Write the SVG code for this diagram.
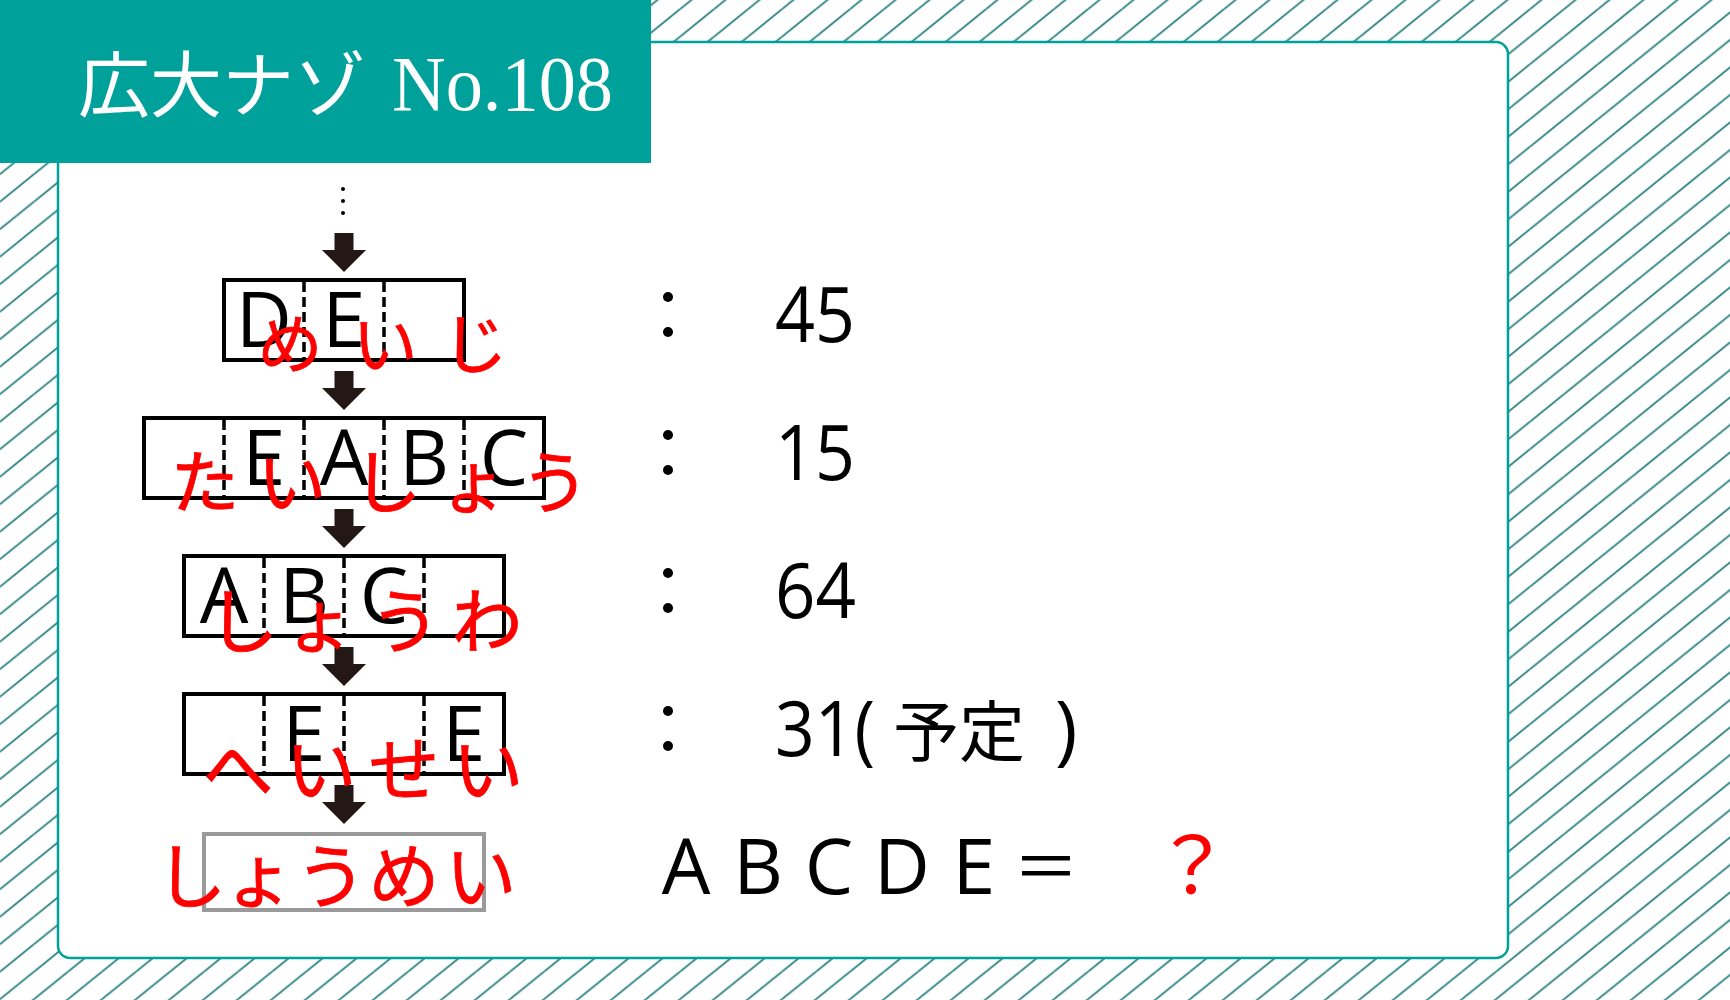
<svg xmlns="http://www.w3.org/2000/svg" width="1730" height="1000" viewBox="0 0 1730 1000">
  <defs>
    <pattern id="hatch" patternUnits="userSpaceOnUse" x="0" y="9.2" width="34" height="27.5">
      <line x1="0" y1="27.5" x2="34" y2="0" stroke="#3d8c8c" stroke-width="2"/>
      <line x1="-34" y1="27.5" x2="0" y2="0" stroke="#3d8c8c" stroke-width="2"/>
      <line x1="34" y1="27.5" x2="68" y2="0" stroke="#3d8c8c" stroke-width="2"/>
      <line x1="0" y1="55" x2="34" y2="27.5" stroke="#3d8c8c" stroke-width="2"/>
      <line x1="0" y1="0" x2="34" y2="-27.5" stroke="#3d8c8c" stroke-width="2"/>
    </pattern>
    <path id="arrow" d="M-9.5,-47 H9.5 V-30 H22 L0,-8 L-22,-30 H-9.5 Z" fill="#231815"/>
  </defs>
  <style>
    .box { fill: none; stroke: #000; stroke-width: 4; }
    .gbox { fill: none; stroke: #9a9a9a; stroke-width: 4; }
    .div { stroke: #000; stroke-width: 3.5; stroke-dasharray: 10 5; }
    .cell { font-family: "Open Sans", "Liberation Sans", sans-serif; font-size: 77px; fill: #000; text-anchor: middle; }
    .red { font-family: "Noto Sans CJK JP", sans-serif; fill: #ff0000; text-anchor: middle; stroke: #ff0000; stroke-width: 0.8; }
    .num { font-family: "Open Sans", "Liberation Sans", "Noto Sans CJK JP", sans-serif; font-size: 76px; fill: #000; }
    .colon { fill: #000; }
  </style>

  <rect x="0" y="0" width="1730" height="1000" fill="#ffffff"/>
  <rect x="0" y="0" width="1730" height="1000" fill="url(#hatch)"/>

  <rect id="card" x="58" y="42" width="1450" height="916" rx="12" ry="12" fill="#ffffff" stroke="#00a19a" stroke-width="2.5"/>

  <g id="header">
    <rect x="0" y="0" width="651" height="163" fill="#00a19a"/>
    <text x="78" y="111" font-family="Noto Sans CJK JP, sans-serif" font-size="72" fill="#ffffff">広大ナゾ</text>
    <text x="392" y="110" font-family="Liberation Serif, serif" font-size="78" fill="#ffffff" textLength="221" lengthAdjust="spacingAndGlyphs">No.108</text>
  </g>

  <g id="ellipsis" fill="#000">
    <circle cx="343" cy="189" r="2"/>
    <circle cx="343" cy="201" r="2"/>
    <circle cx="343" cy="213" r="2"/>
  </g>

  <g id="connectors">
    <use href="#arrow" x="344" y="280"/>
    <use href="#arrow" x="344" y="418"/>
    <use href="#arrow" x="344" y="556"/>
    <use href="#arrow" x="344" y="694"/>
    <use href="#arrow" x="344" y="832"/>
  </g>

  <g id="box1">
    <rect class="box" x="224" y="280" width="240" height="80"/>
    <line class="div" x1="304" y1="282" x2="304" y2="358"/>
    <line class="div" x1="384" y1="282" x2="384" y2="358"/>
    <text class="cell" x="264" y="347">D</text>
    <text class="cell" x="344" y="347">E</text>
    <text class="red" font-size="65" x="290 385 475" y="368">めいじ</text>
  </g>

  <g id="box2">
    <rect class="box" x="144" y="418" width="400" height="80"/>
    <line class="div" x1="224" y1="420" x2="224" y2="496"/>
    <line class="div" x1="304" y1="420" x2="304" y2="496"/>
    <line class="div" x1="384" y1="420" x2="384" y2="496"/>
    <line class="div" x1="464" y1="420" x2="464" y2="496"/>
    <text class="cell" x="264" y="485">E</text>
    <text class="cell" x="344" y="485">A</text>
    <text class="cell" x="424" y="485">B</text>
    <text class="cell" x="504" y="485">C</text>
    <text class="red" font-size="69" x="205 292 387 474 555" y="508">たいしょう</text>
  </g>

  <g id="box3">
    <rect class="box" x="184" y="556" width="320" height="80"/>
    <line class="div" x1="264" y1="558" x2="264" y2="634"/>
    <line class="div" x1="344" y1="558" x2="344" y2="634"/>
    <line class="div" x1="424" y1="558" x2="424" y2="634"/>
    <text class="cell" x="224" y="623">A</text>
    <text class="cell" x="304" y="623">B</text>
    <text class="cell" x="384" y="623">C</text>
    <text class="red" font-size="71" x="243 320 405 487" y="647">しょうわ</text>
  </g>

  <g id="box4">
    <rect class="box" x="184" y="694" width="320" height="80"/>
    <line class="div" x1="264" y1="696" x2="264" y2="772"/>
    <line class="div" x1="344" y1="696" x2="344" y2="772"/>
    <line class="div" x1="424" y1="696" x2="424" y2="772"/>
    <text class="cell" x="304" y="761">E</text>
    <text class="cell" x="464" y="761">E</text>
    <text class="red" font-size="71" x="238 321 404 488" y="795">へいせい</text>
  </g>

  <g id="box5">
    <rect class="gbox" x="204" y="834" width="280" height="76"/>
    <text class="red" font-size="71" x="191 259 331 404 481" y="902">しょうめい</text>
  </g>

  <g id="values">
    <g class="colon">
      <circle cx="668" cy="297" r="5"/><circle cx="668" cy="332" r="5"/>
      <circle cx="668" cy="435" r="5"/><circle cx="668" cy="470" r="5"/>
      <circle cx="668" cy="573" r="5"/><circle cx="668" cy="608" r="5"/>
      <circle cx="668" cy="711" r="5"/><circle cx="668" cy="746" r="5"/>
    </g>
    <text class="num" x="775" y="342" textLength="80" lengthAdjust="spacingAndGlyphs">45</text>
    <text class="num" x="775" y="480" textLength="80" lengthAdjust="spacingAndGlyphs">15</text>
    <text class="num" x="775" y="618" textLength="81" lengthAdjust="spacingAndGlyphs">64</text>
    <text class="num" y="756"><tspan x="775" textLength="100" lengthAdjust="spacingAndGlyphs">31(</tspan><tspan x="893" font-family="Noto Sans CJK JP, sans-serif" font-size="66">予定</tspan><tspan x="1055">)</tspan></text>
  </g>

  <g id="answer">
    <text class="cell" font-size="78" x="686 758 829 902 974" y="894">ABCDE</text>
    <text x="1046" y="891" font-family="Noto Sans CJK JP, sans-serif" font-size="66" fill="#000" text-anchor="middle">＝</text>
    <text x="1192" y="894" font-family="Noto Sans CJK JP, sans-serif" font-size="78" fill="#ff0000" text-anchor="middle">？</text>
  </g>
</svg>
